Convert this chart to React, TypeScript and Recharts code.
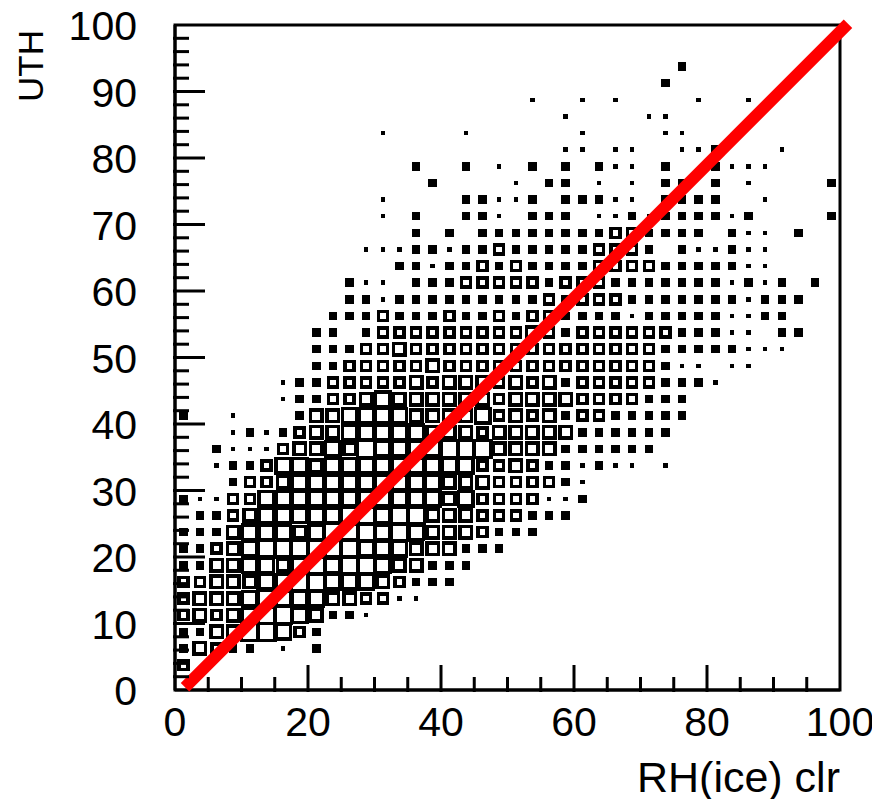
import React from 'react'
import { ReferenceArea, ReferenceLine, Scatter, ScatterChart, XAxis, YAxis } from 'recharts'

const chartWidth = 872
const chartHeight = 799

// box-size level per RH bin, one string per UTH bin (bottom row first), each bin is 2.5 units
const binSize = 2.5
const uthRows = [
  '',
  '3',
  '243220102',
  '224466532',
  '343456654221',
  '344456555443311',
  '33444556655543222',
  '224455456566544222',
  '22345666666555444222',
  '2224555456665654443222',
  '022345555566566444333222',
  '2113355555555555453333112',
  '0002334555555555444333321',
  '001223554555555555334322121101',
  '00211134454655556664444222222',
  '000121234455555444344444222222',
  '2001000244555544445343423322222',
  '0000001223345444444344443333222',
  '000000122333334344434342333332221',
  '00000000223333343333333333333211011',
  '0000000022233433333333333333322222111',
  '00000000220233333333343233333322211022',
  '0000000002223222322323322221222221122',
  '00000000002212222222223233322222221222',
  '000000000021102223333323332222222121202',
  '000000000000022122323222233332222211',
  '000000000001112212232222233320211211',
  '00000000000000202022222222332222021102',
  '0000000000001020022102220112122221200002',
  '000000000000100002211202221102222001',
  '0000000000000002000010220101022020100002',
  '000000000000002002010202021102002111',
  '0000000000000000000000011011001120001',
  '0000000000001000010000001000011',
  '000000000000000000000001000011',
  '00000000000000000000010010100001001',
  '000000000000000000000000000002',
  '0000000000000000000000000000002',
]

// side of the drawn box for each level
const boxSides = [0, 4.5, 8.5, 12.5, 15, 18, 20.5]

const xTicks = [0, 5, 10, 15, 20, 25, 30, 35, 40, 45, 50, 55, 60, 65, 70, 75, 80, 85, 90, 95, 100]
const yTicks = [0, 2, 4, 6, 8, 10, 12, 14, 16, 18, 20, 22, 24, 26, 28, 30, 32, 34, 36, 38, 40, 42, 44, 46, 48, 50, 52, 54, 56, 58, 60, 62, 64, 66, 68, 70, 72, 74, 76, 78, 80, 82, 84, 86, 88, 90, 92, 94, 96, 98, 100]

const fitLine = [{ x: 1.5, y: 0.4 }, { x: 101.2, y: 100.2 }]

const boxes = uthRows.flatMap((row, j) =>
  row.split('').map((c, i) => ({ rh: (i + 0.5) * binSize, uth: (j + 0.5) * binSize, level: Number(c) })),
).filter((d) => d.level > 0)

const font = '"Liberation Sans", Arial, sans-serif'

function Box(props: any) {
  const side = boxSides[props.payload.level]
  const lw = 3.5
  if (side <= 8.5) {
    return <rect x={props.cx - side / 2} y={props.cy - side / 2} width={side} height={side} fill="#000" shapeRendering="crispEdges" />
  }
  const s = side - lw
  return <rect x={props.cx - s / 2} y={props.cy - s / 2} width={s} height={s} fill="none" stroke="#000" strokeWidth={lw} shapeRendering="crispEdges" />
}

function XTick(props: any) {
  const { x, y, payload } = props
  const major = payload.value % 20 === 0
  const inner = payload.value > 0 && payload.value < 100
  return (
    <g>
      {inner && <line x1={x} x2={x} y1={y} y2={y - (major ? 27 : 15)} stroke="#000" strokeWidth={3} />}
      {major && <text x={x} y={736} textAnchor="middle" fontSize={41} fontFamily={font} fill="#000">{payload.value}</text>}
    </g>
  )
}

function YTick(props: any) {
  const { x, y, payload } = props
  const major = payload.value % 10 === 0
  const inner = payload.value > 0 && payload.value < 100
  return (
    <g>
      {inner && <line x1={x} x2={x + (major ? 32 : 16)} y1={y} y2={y} stroke="#000" strokeWidth={3} />}
      {major && <text x={137} y={y + 15} textAnchor="end" fontSize={41} fontFamily={font} fill="#000">{payload.value}</text>}
    </g>
  )
}

export default function App() {
  return (
    <div style={{ position: 'absolute', left: 0, top: 0, width: chartWidth, height: chartHeight, background: '#fff', overflow: 'hidden' }}>
      <ScatterChart width={chartWidth} height={chartHeight} margin={{ top: 25, right: 32, bottom: 0, left: 0 }}>
        <XAxis type="number" dataKey="rh" domain={[0, 100]} ticks={xTicks} tick={<XTick />} tickLine={false} tickSize={0} height={109} axisLine={{ stroke: '#000', strokeWidth: 3 }} interval={0} />
        <YAxis type="number" dataKey="uth" domain={[0, 100]} ticks={yTicks} tick={<YTick />} tickLine={false} tickSize={0} width={175} axisLine={{ stroke: '#000', strokeWidth: 3 }} interval={0} />
        <ReferenceArea x1={0} x2={100} y1={0} y2={100} fill="none" stroke="#000" strokeWidth={3} />
        <Scatter data={boxes} isAnimationActive={false} shape={<Box />} />
        <ReferenceLine segment={fitLine} stroke="#ff0000" strokeWidth={12} ifOverflow="visible" zIndex={900} />
        <text x={840} y={792} textAnchor="end" fontSize={43} fontFamily={font} fill="#000">RH(ice) clr</text>
        <text transform="translate(43,30) rotate(-90)" textAnchor="end" fontSize={35} fontFamily={font} fill="#000">UTH</text>
      </ScatterChart>
    </div>
  )
}
